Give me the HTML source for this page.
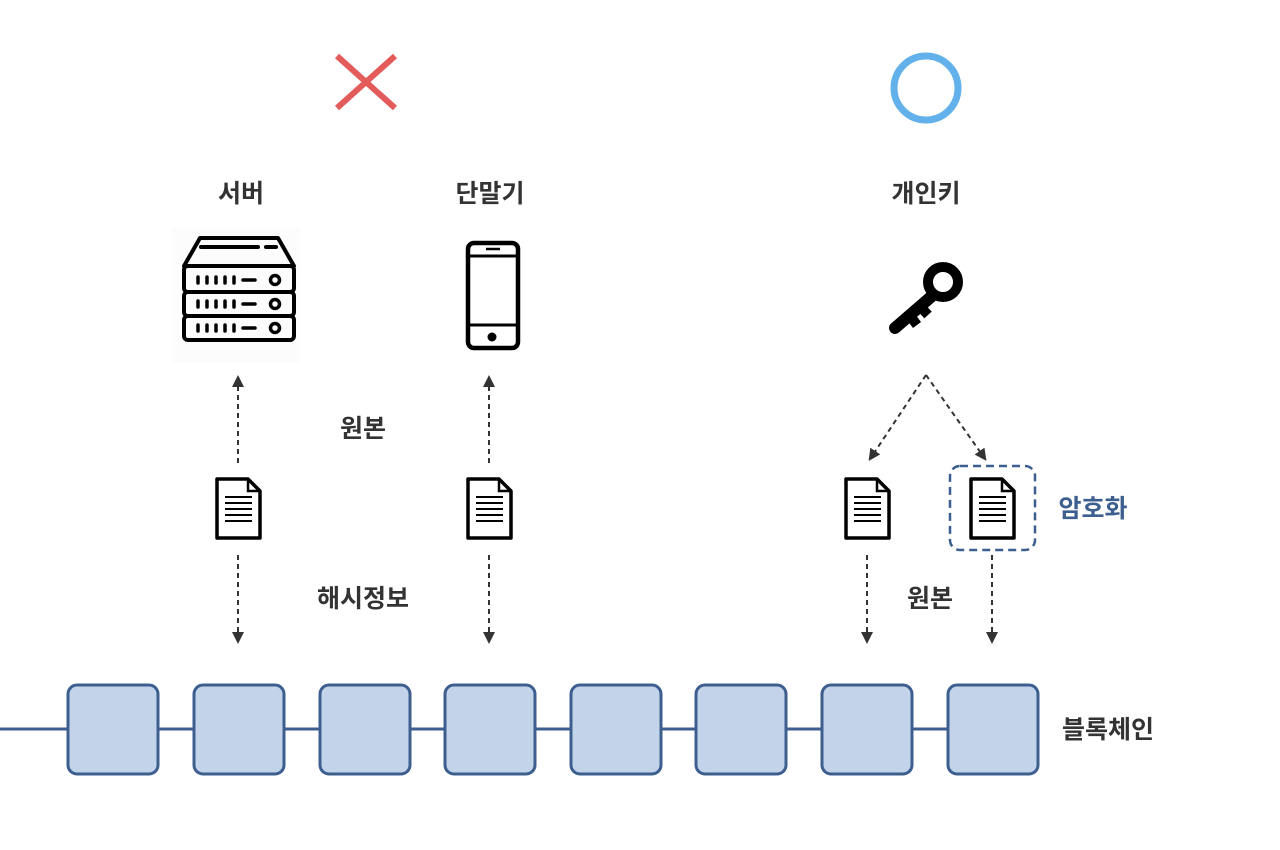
<!DOCTYPE html>
<html><head><meta charset="utf-8"><style>
body{margin:0;background:#fff;width:1280px;height:850px;overflow:hidden;position:relative;font-family:"Liberation Sans","Noto Sans CJK KR",sans-serif}
.t{position:absolute;font-size:25px;font-weight:bold;color:#333;transform:translate(-50%,-50%);white-space:nowrap}
</style></head><body>
<svg width="1280" height="850" style="position:absolute;left:0;top:0">
<defs>
<marker id="ah" markerWidth="12" markerHeight="12" refX="6" refY="6" orient="auto" markerUnits="userSpaceOnUse"><path d="M0,0 L12,6 L0,12 Z" fill="#333"/></marker>
<g id="doc"><path d="M2,2 H33 L45,14 V61 H2 Z" fill="#fff" stroke="#000" stroke-width="3.5" stroke-linejoin="round"/><path d="M33,2 V14 H45" fill="none" stroke="#000" stroke-width="2.5"/><path d="M10,20H37M10,26H37M10,32H37M10,38H37M10,44H37" stroke="#000" stroke-width="2"/></g>
</defs>
<path d="M337,56 L395,108 M395,56 L337,108" stroke="#e35b5b" stroke-width="6"/>
<circle cx="926" cy="88" r="32" fill="none" stroke="#62b1ea" stroke-width="7"/>
<rect x="172" y="228" width="128" height="134" fill="#fcfcfc"/>
<g fill="none" stroke="#000" stroke-width="4" stroke-linejoin="round">
<path d="M184,266 L200,238 H278 L294,266 Z"/>
<rect x="184" y="266" width="110" height="26" rx="4"/>
<rect x="184" y="292" width="110" height="24" rx="4"/>
<rect x="184" y="316" width="110" height="24" rx="4"/>
</g>
<path d="M201,247 H258 M266,247 H276" stroke="#000" stroke-width="4" stroke-linecap="round"/>
<g stroke="#000" stroke-width="3.5" stroke-linecap="round">
<path d="M198,277v6M207,277v6M216,277v6M225,277v6M234,277v6M243,280h12"/>
<path d="M198,301v6M207,301v6M216,301v6M225,301v6M234,301v6M243,304h12"/>
<path d="M198,325v6M207,325v6M216,325v6M225,325v6M234,325v6M243,328h12"/>
</g>
<g fill="none" stroke="#000" stroke-width="3.5"><circle cx="275" cy="280" r="4.5"/><circle cx="275" cy="304" r="4.5"/><circle cx="275" cy="328" r="4.5"/></g>
<rect x="468" y="243" width="50" height="105" rx="6" fill="none" stroke="#000" stroke-width="4.5"/>
<path d="M468,256 H518 M468,325 H518" stroke="#000" stroke-width="3"/>
<path d="M486,249 H500" stroke="#000" stroke-width="2.5"/>
<circle cx="492" cy="337" r="4.5" fill="#000"/>
<circle cx="943" cy="282" r="15" fill="none" stroke="#000" stroke-width="10"/>
<path d="M932,296 L895,328" stroke="#000" stroke-width="12" stroke-linecap="round"/>
<path d="M908,313 L917,325 M918,304 L928,315" stroke="#000" stroke-width="10"/>
<g stroke="#333" stroke-width="2" stroke-dasharray="5,4" fill="none" marker-end="url(#ah)">
<path d="M238,463 V381"/><path d="M489,463 V381"/>
<path d="M238,555 V638"/><path d="M489,555 V638"/>
<path d="M867,555 V638"/><path d="M992,555 V638"/>
<path d="M926,375 L872,456"/><path d="M926,375 L983,456"/>
</g>
<use href="#doc" x="215" y="477"/>
<use href="#doc" x="466" y="477"/>
<use href="#doc" x="844" y="477"/>
<use href="#doc" x="969" y="477"/>
<rect x="950" y="466" width="85" height="84" rx="10" fill="none" stroke="#3d5f8f" stroke-width="2.5" stroke-dasharray="8,5"/>
<path d="M0,729 H948" stroke="#3d5f8f" stroke-width="3"/>
<g fill="#c3d3ea" stroke="#3d5f8f" stroke-width="3">
<rect x="68" y="685" width="90" height="89" rx="9"/>
<rect x="194" y="685" width="90" height="89" rx="9"/>
<rect x="320" y="685" width="90" height="89" rx="9"/>
<rect x="445" y="685" width="90" height="89" rx="9"/>
<rect x="571" y="685" width="90" height="89" rx="9"/>
<rect x="696" y="685" width="90" height="89" rx="9"/>
<rect x="822" y="685" width="90" height="89" rx="9"/>
<rect x="948" y="685" width="90" height="89" rx="9"/>
</g>
</svg>
<div class="t" style="left:241px;top:192px">서버</div>
<div class="t" style="left:490px;top:192px">단말기</div>
<div class="t" style="left:926px;top:192px">개인키</div>
<div class="t" style="left:363px;top:427px">원본</div>
<div class="t" style="left:363px;top:597px">해시정보</div>
<div class="t" style="left:930px;top:597px">원본</div>
<div class="t" style="left:1093px;top:507px;color:#3d5f8f">암호화</div>
<div class="t" style="left:1108px;top:728px">블록체인</div>
</body></html>
